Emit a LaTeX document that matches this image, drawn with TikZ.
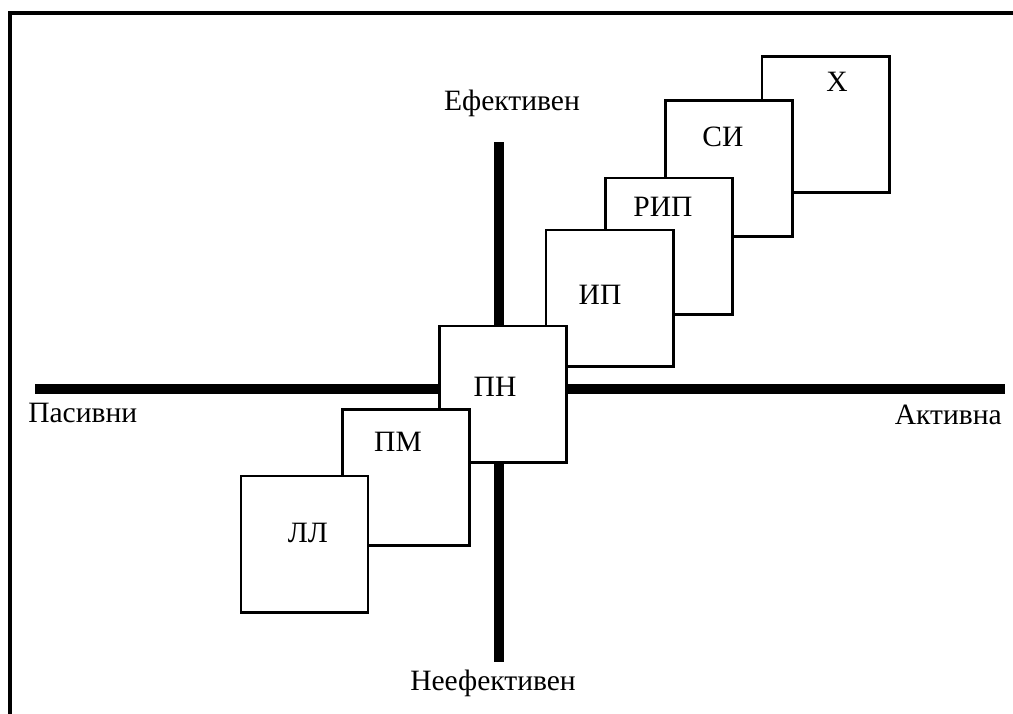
\documentclass[tikz,border=0pt]{standalone}
\usepackage{fontspec}
\setmainfont{Liberation Serif}

\begin{document}
\begin{tikzpicture}[x=0.025cm,y=-0.025cm,
  box/.style={rectangle,draw,fill=white,line width=2.1pt,minimum width=3.175cm,minimum height=3.4cm},
  axis line/.style={line width=7pt},
  lbl/.style={font=\fontsize{21}{25}\selectfont,inner sep=0pt}]
  \clip (0,0) rectangle (1013,713);
  % frame, cut off on the right and at the bottom
  \draw[line width=2.8pt] (10,730) -- (10,13) -- (1030,13);

  % axes
  \coordinate (pas) at (35,389);
  \coordinate (akt) at (1005,389);
  \coordinate (ef) at (499,142);
  \coordinate (neef) at (499,662);
  \draw[axis line] (pas) -- (akt);
  \draw[axis line] (ef) -- (neef);

  \node[lbl, anchor=west] (pasivni) at (28,413) {Пасивни};
  \node[lbl, anchor=east] (aktivna) at (1002,415) {Активна};
  \node[lbl] (efektiven) at (512,103) {Ефективен};
  \node[lbl] (neefektiven) at (493,683) {Неефективен};

  % boxes, back to front
  \node[box] (x) at (825.5,124.5) {};
  \node[lbl] at (837,82) {Х};
  \node[box] (si) at (729,168.5) {};
  \node[lbl] at (723,137) {СИ};
  \node[box] (rip) at (669,246) {};
  \node[lbl] at (663,207) {РИП};
  \node[box] (ip) at (609.5,298) {};
  \node[lbl] at (600,295) {ИП};
  \node[box] (pn) at (503,394) {};
  \node[lbl] at (495,387) {ПН};
  \node[box] (pm) at (406,477.5) {};
  \node[lbl] at (398,442) {ПМ};
  \node[box] (ll) at (304.5,544) {};
  \node[lbl] at (308,533) {ЛЛ};
\end{tikzpicture}
\end{document}
